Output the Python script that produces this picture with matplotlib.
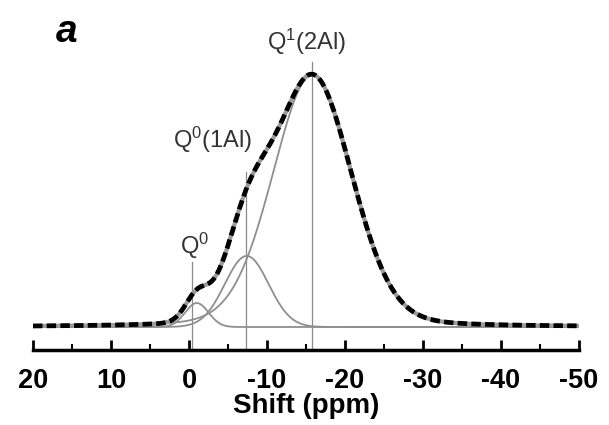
import numpy as np
import matplotlib
matplotlib.use("Agg")
import matplotlib.pyplot as plt
from matplotlib.ticker import MultipleLocator, FuncFormatter

plt.rcParams['font.family'] = ['Liberation Sans', 'DejaVu Sans']
plt.rcParams['mathtext.fontset'] = 'custom'
plt.rcParams['mathtext.rm'] = 'Liberation Sans'
plt.rcParams['mathtext.it'] = 'Liberation Sans:italic'
plt.rcParams['mathtext.bf'] = 'Liberation Sans:bold'
plt.rcParams['axes.unicode_minus'] = False

# ---- data ----
# fitted peak components (chemical shift in ppm, relative height, width in ppm)
peak_names = ["Q0", "Q0(1Al)", "Q1(2Al)"]
peak_centers = [-1.0, -7.4, -15.8]
peak_heights = [0.095, 0.282, 1.0]
peak_sigmas = [1.5, 2.8, 5.1]
peak_lorentz_frac = [0.0, 0.0, 0.15]

# annotation marker lines and labels
marker_pos = [-0.4, -7.35, -15.75]
marker_top = [0.258, 0.615, 1.05]
label_texts = [r"Q$^{0}$", r"Q$^{0}$(1Al)", r"Q$^{1}$(2Al)"]
label_x = [-0.7, -3.0, -15.0]
label_y = [0.32, 0.742, 1.133]

x_min, x_max = 20, -50
x_ticks = [20, 10, 0, -10, -20, -30, -40, -50]

# ---- figure ----
fig = plt.figure(figsize=(6.09, 4.25), dpi=100)
ax = fig.add_axes([33/609, 75/425, 546/609, 330/425])

x = np.linspace(x_min, x_max, 1401)
comps = []
for c, h, s, f in zip(peak_centers, peak_heights, peak_sigmas, peak_lorentz_frac):
    g = np.exp(-0.5 * ((x - c) / s) ** 2)
    hw = s * 1.1774
    l = 1.0 / (1.0 + ((x - c) / hw) ** 2)
    comps.append(h * ((1 - f) * g + f * l))
total = np.sum(comps, axis=0)

y0 = -23/252
ax.set_xlim(x_min, x_max)
ax.set_ylim(y0, y0 + 330/252)

for xp, top in zip(marker_pos, marker_top):
    ax.plot([xp, xp], [y0, top], color='#8a8a8a', lw=0.9, zorder=1)

for comp in comps:
    ax.plot(x, comp, color='#8f8f8f', lw=1.3, zorder=2)

ax.plot(x, total, color='#9a9a9a', lw=3.0, zorder=3)
ax.plot(x, total, color='black', lw=3.4, ls=(0, (2.0, 0.9)), zorder=4)

for t, lx, ly in zip(label_texts, label_x, label_y):
    ax.text(lx, ly, t, ha='center', va='center', fontsize=17, color='#333333')

for sp in ['left', 'right', 'top']:
    ax.spines[sp].set_visible(False)
ax.spines['bottom'].set_linewidth(2.5)
ax.set_yticks([])
ax.set_xticks(x_ticks)
ax.xaxis.set_major_formatter(FuncFormatter(lambda v, p: f"{int(round(v))}"))
ax.xaxis.set_minor_locator(MultipleLocator(5))
ax.tick_params(axis='x', which='major', direction='in', length=7, width=2,
               labelsize=19.5, pad=13)
ax.tick_params(axis='x', which='minor', direction='in', length=4, width=1.5)
for lab in ax.get_xticklabels():
    lab.set_fontweight('bold')
ax.set_xlabel("Shift (ppm)", fontsize=20, fontweight='bold', labelpad=-1)

fig.text(67/609, 1 - 32/425, "a", fontsize=28, fontweight='bold',
         fontstyle='italic', ha='center', va='center')

fig.savefig("out.png", dpi=100)
